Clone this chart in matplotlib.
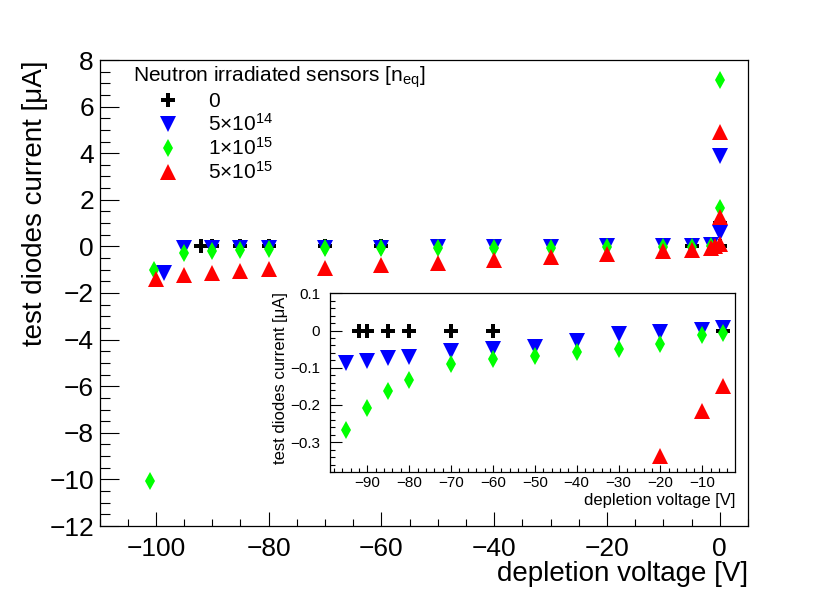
import matplotlib
matplotlib.use("Agg")
import matplotlib.pyplot as plt
from matplotlib.ticker import MultipleLocator, FuncFormatter

plt.rcParams['font.family'] = ['Liberation Sans', 'DejaVu Sans']
plt.rcParams['mathtext.fontset'] = 'custom'
plt.rcParams['mathtext.rm'] = 'Liberation Sans'
plt.rcParams['mathtext.default'] = 'regular'

# depletion voltage [V] / test diode current [uA], one pair per fluence
v_0 = [-92, -90, -85, -80, -70, -60, -5, 0, 0]
i_0 = [0.0, 0.0, 0.0, 0.0, 0.0, 0.0, 0.0, 0.0, 1.0]

v_5e14 = [-98.6, -95, -90, -85, -80, -70, -60, -50, -40, -30, -20, -10, -5, -1.5, 0, 0]
i_5e14 = [-1.13, -0.086, -0.081, -0.074, -0.070, -0.056, -0.049, -0.043, -0.028,
          -0.010, -0.003, 0.002, 0.008, 0.05, 0.56, 3.9]

v_1e15 = [-101, -100.4, -95, -90, -85, -80, -70, -60, -50, -40, -30, -20, -10, -5, -1.5, 0, 0]
i_1e15 = [-10.05, -1.02, -0.268, -0.208, -0.163, -0.132, -0.089, -0.076, -0.068,
          -0.058, -0.050, -0.036, -0.012, -0.007, 0.0, 1.63, 7.15]

v_5e15 = [-100, -95, -90, -85, -80, -70, -60, -50, -40, -30, -20, -10, -5, -1.5, -0.8, 0, 0, 0]
i_5e15 = [-1.40, -1.21, -1.14, -1.07, -0.99, -0.92, -0.78, -0.72, -0.60, -0.47,
          -0.338, -0.215, -0.148, -0.05, 0.0, 0.1, 1.25, 4.9]

labels = ['0', '5×10$^{14}$', '1×10$^{15}$', '5×10$^{15}$']

series = [
    (v_0, i_0, 'P', 'black', 9.5),
    (v_5e14, i_5e14, 'v', 'blue', 12),
    (v_1e15, i_1e15, 'd', '#00ff00', 8.7),
    (v_5e15, i_5e15, '^', 'red', 12),
]


def fmt(v, pos):
    s = f"{round(v, 6):g}"
    if s == "-0":
        s = "0"
    return s.replace('-', '\u2212')


def draw(ax, xr=None, yr=None):
    # like ROOT: points outside the frame are not drawn at all
    handles = []
    for (xs, ys, m, c, ms), lab in zip(series, labels):
        pts = [(x, y) for x, y in zip(xs, ys)
               if (xr is None or xr[0] <= x <= xr[1]) and (yr is None or yr[0] <= y <= yr[1])]
        px = [p[0] for p in pts]
        py = [p[1] for p in pts]
        h, = ax.plot(px, py, ls='none', marker=m, color=c, ms=ms, mew=0, label=lab)
        handles.append(h)
    for s in ax.spines.values():
        s.set_linewidth(0.9)
    if xr is not None:
        ax.set_xlim(*xr)
    if yr is not None:
        ax.set_ylim(*yr)
    return handles


W, H = 830, 598
fig = plt.figure(figsize=(8.3, 5.98), dpi=100)

ax = fig.add_axes([99.5 / W, 1 - 526 / H, (748 - 99.5) / W, (526 - 60) / H])
handles = draw(ax, (-110, 5), (-12, 8))
ax.xaxis.set_major_locator(MultipleLocator(20))
ax.xaxis.set_minor_locator(MultipleLocator(5))
ax.yaxis.set_major_locator(MultipleLocator(2))
ax.yaxis.set_minor_locator(MultipleLocator(0.5))
ax.xaxis.set_major_formatter(FuncFormatter(fmt))
ax.yaxis.set_major_formatter(FuncFormatter(fmt))
ax.tick_params(which='both', direction='in', top=False, right=False, width=0.8, labelsize=19)
ax.tick_params(axis='x', which='major', length=10, pad=8)
ax.tick_params(axis='x', which='minor', length=5)
ax.tick_params(axis='y', which='major', length=13.5, pad=4)
ax.tick_params(axis='y', which='minor', length=7)

leg = ax.legend(handles=handles, title='Neutron irradiated sensors [n$_{eq}$]',
                loc='upper left', bbox_to_anchor=(0.052, 0.99), borderaxespad=0,
                borderpad=0, frameon=False, fontsize=15, title_fontsize=15,
                handlelength=3.3, handletextpad=0.3, labelspacing=0.1,
                alignment='left', numpoints=1)

fig.text(748 / W, 1 - 574 / H, 'depletion voltage [V]', ha='right', va='center', fontsize=20)
fig.text(35 / W, 1 - 60 / H, 'test diodes current [μA]', rotation=90,
         ha='center', va='top', fontsize=20)

# inset, zoom on the low current region
axi = fig.add_axes([330 / W, 1 - 472 / H, (735 - 330) / W, (472 - 293.3) / H])
axi.set_facecolor('white')
draw(axi, (-98.9, -2.2), (-0.38, 0.1))
axi.xaxis.set_major_locator(MultipleLocator(10))
axi.xaxis.set_minor_locator(MultipleLocator(2))
axi.yaxis.set_major_locator(MultipleLocator(0.1))
axi.yaxis.set_minor_locator(MultipleLocator(0.02))
axi.xaxis.set_major_formatter(FuncFormatter(fmt))
axi.yaxis.set_major_formatter(FuncFormatter(fmt))
axi.tick_params(which='both', direction='in', top=False, right=False, width=0.8, labelsize=11)
axi.tick_params(axis='x', which='major', length=5, pad=3)
axi.tick_params(axis='x', which='minor', length=3)
axi.tick_params(axis='y', which='major', length=8.5, pad=7)
axi.tick_params(axis='y', which='minor', length=3.6)

fig.text(735 / W, 1 - 500 / H, 'depletion voltage [V]', ha='right', va='center', fontsize=12)
fig.text(280 / W, 1 - 292 / H, 'test diodes current [μA]', rotation=90,
         ha='center', va='top', fontsize=12)

fig.savefig('out.png', dpi=100)
